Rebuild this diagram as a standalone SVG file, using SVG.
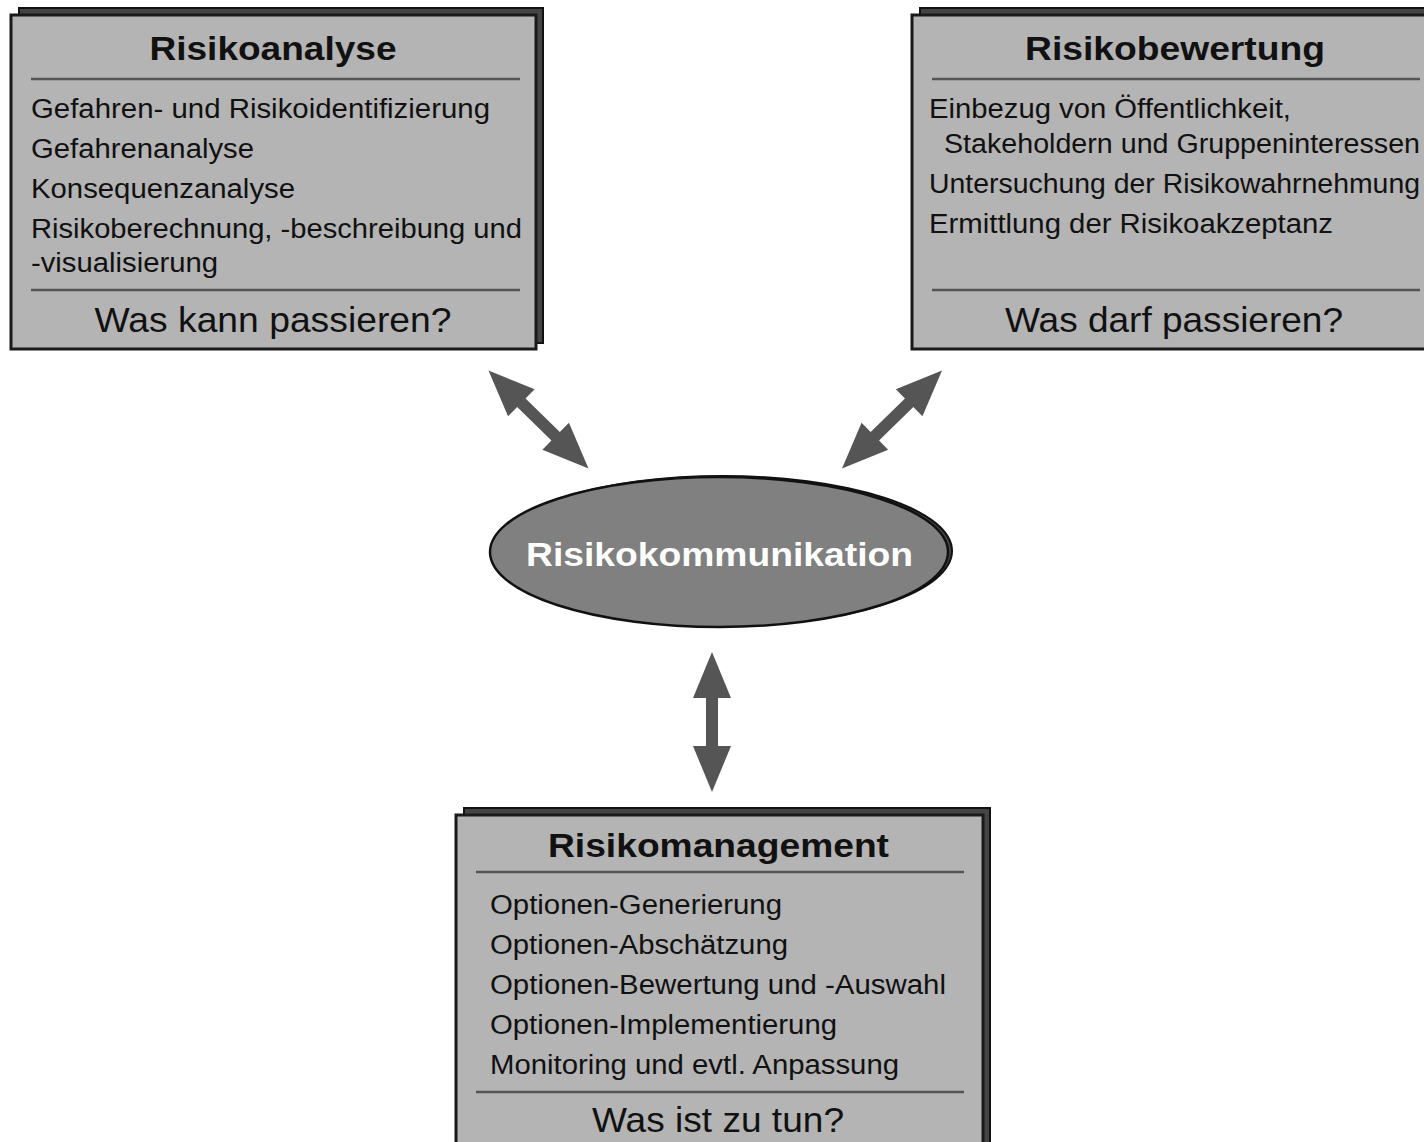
<svg xmlns="http://www.w3.org/2000/svg" width="1424" height="1142" viewBox="0 0 1424 1142">
<defs>
<style>
.shadow{fill:#444;stroke:#111;stroke-width:2}
.box{fill:#b4b4b4;stroke:#1a1a1a;stroke-width:3}
.sep{stroke:#555;stroke-width:2.5}
.title{font-family:"Liberation Sans",Arial,sans-serif;font-weight:bold;font-size:33px;fill:#111;text-anchor:middle}
.item{font-family:"Liberation Sans",Arial,sans-serif;font-size:27px;fill:#111}
.q{font-family:"Liberation Sans",Arial,sans-serif;font-size:35px;fill:#111;text-anchor:middle}
.arrow{fill:#555}
</style>
<path id="dbl" d="M -70 0 L -24 -19 L -24 -6 L 24 -6 L 24 -19 L 70 0 L 24 19 L 24 6 L -24 6 L -24 19 Z"/>
</defs>
<rect width="1424" height="1142" fill="#fff"/>

<g id="risikoanalyse">
<rect class="shadow" x="19" y="8" width="524" height="335"/>
<rect class="box" x="11" y="15" width="525" height="334"/>
<text class="title" x="273" y="60" textLength="247" lengthAdjust="spacingAndGlyphs">Risikoanalyse</text>
<line class="sep" x1="31" y1="79" x2="520" y2="79"/>
<text class="item" x="31" y="118" textLength="459" lengthAdjust="spacingAndGlyphs">Gefahren- und Risikoidentifizierung</text>
<text class="item" x="31" y="158" textLength="223" lengthAdjust="spacingAndGlyphs">Gefahrenanalyse</text>
<text class="item" x="31" y="198" textLength="264" lengthAdjust="spacingAndGlyphs">Konsequenzanalyse</text>
<text class="item" x="31" y="238" textLength="491" lengthAdjust="spacingAndGlyphs">Risikoberechnung, -beschreibung und</text>
<text class="item" x="31" y="272" textLength="187" lengthAdjust="spacingAndGlyphs">-visualisierung</text>
<line class="sep" x1="31" y1="290" x2="520" y2="290"/>
<text class="q" x="273" y="332" textLength="357" lengthAdjust="spacingAndGlyphs">Was kann passieren?</text>
</g>

<g id="risikobewertung">
<rect class="shadow" x="920" y="8" width="520" height="335"/>
<rect class="box" x="912" y="15" width="520" height="334"/>
<text class="title" x="1175" y="60" textLength="300" lengthAdjust="spacingAndGlyphs">Risikobewertung</text>
<line class="sep" x1="932" y1="79" x2="1420" y2="79"/>
<text class="item" x="929" y="118" textLength="362" lengthAdjust="spacingAndGlyphs">Einbezug von Öffentlichkeit,</text>
<text class="item" x="944" y="153" textLength="476" lengthAdjust="spacingAndGlyphs">Stakeholdern und Gruppeninteressen</text>
<text class="item" x="929" y="193" textLength="491" lengthAdjust="spacingAndGlyphs">Untersuchung der Risikowahrnehmung</text>
<text class="item" x="929" y="233" textLength="404" lengthAdjust="spacingAndGlyphs">Ermittlung der Risikoakzeptanz</text>
<line class="sep" x1="932" y1="290" x2="1420" y2="290"/>
<text class="q" x="1174" y="332" textLength="338" lengthAdjust="spacingAndGlyphs">Was darf passieren?</text>
</g>

<g id="risikokommunikation">
<ellipse cx="723" cy="551" rx="229" ry="75" fill="#444" stroke="#111" stroke-width="2"/>
<ellipse cx="719" cy="552" rx="229" ry="75" fill="#808080" stroke="#111" stroke-width="2.5"/>
<text x="719.5" y="566" font-family="Liberation Sans,Arial,sans-serif" font-weight="bold" font-size="34" fill="#fff" text-anchor="middle" textLength="387" lengthAdjust="spacingAndGlyphs">Risikokommunikation</text>
</g>

<g id="risikomanagement">
<rect class="shadow" x="464" y="808" width="526" height="340"/>
<rect class="box" x="456" y="815" width="527" height="334"/>
<text class="title" x="718.5" y="857" textLength="341" lengthAdjust="spacingAndGlyphs">Risikomanagement</text>
<line class="sep" x1="476" y1="872" x2="964" y2="872"/>
<text class="item" x="490" y="914" textLength="292" lengthAdjust="spacingAndGlyphs">Optionen-Generierung</text>
<text class="item" x="490" y="954" textLength="298" lengthAdjust="spacingAndGlyphs">Optionen-Abschätzung</text>
<text class="item" x="490" y="994" textLength="456" lengthAdjust="spacingAndGlyphs">Optionen-Bewertung und -Auswahl</text>
<text class="item" x="490" y="1034" textLength="347" lengthAdjust="spacingAndGlyphs">Optionen-Implementierung</text>
<text class="item" x="490" y="1074" textLength="409" lengthAdjust="spacingAndGlyphs">Monitoring und evtl. Anpassung</text>
<line class="sep" x1="476" y1="1092" x2="964" y2="1092"/>
<text class="q" x="718" y="1132" textLength="252" lengthAdjust="spacingAndGlyphs">Was ist zu tun?</text>
</g>

<g id="connectors" class="arrow">
<use href="#dbl" transform="translate(538.5 419.5) rotate(44.4)"/>
<use href="#dbl" transform="translate(892 419.5) rotate(-44.4)"/>
<use href="#dbl" transform="translate(712 722) rotate(90)"/>
</g>
</svg>
